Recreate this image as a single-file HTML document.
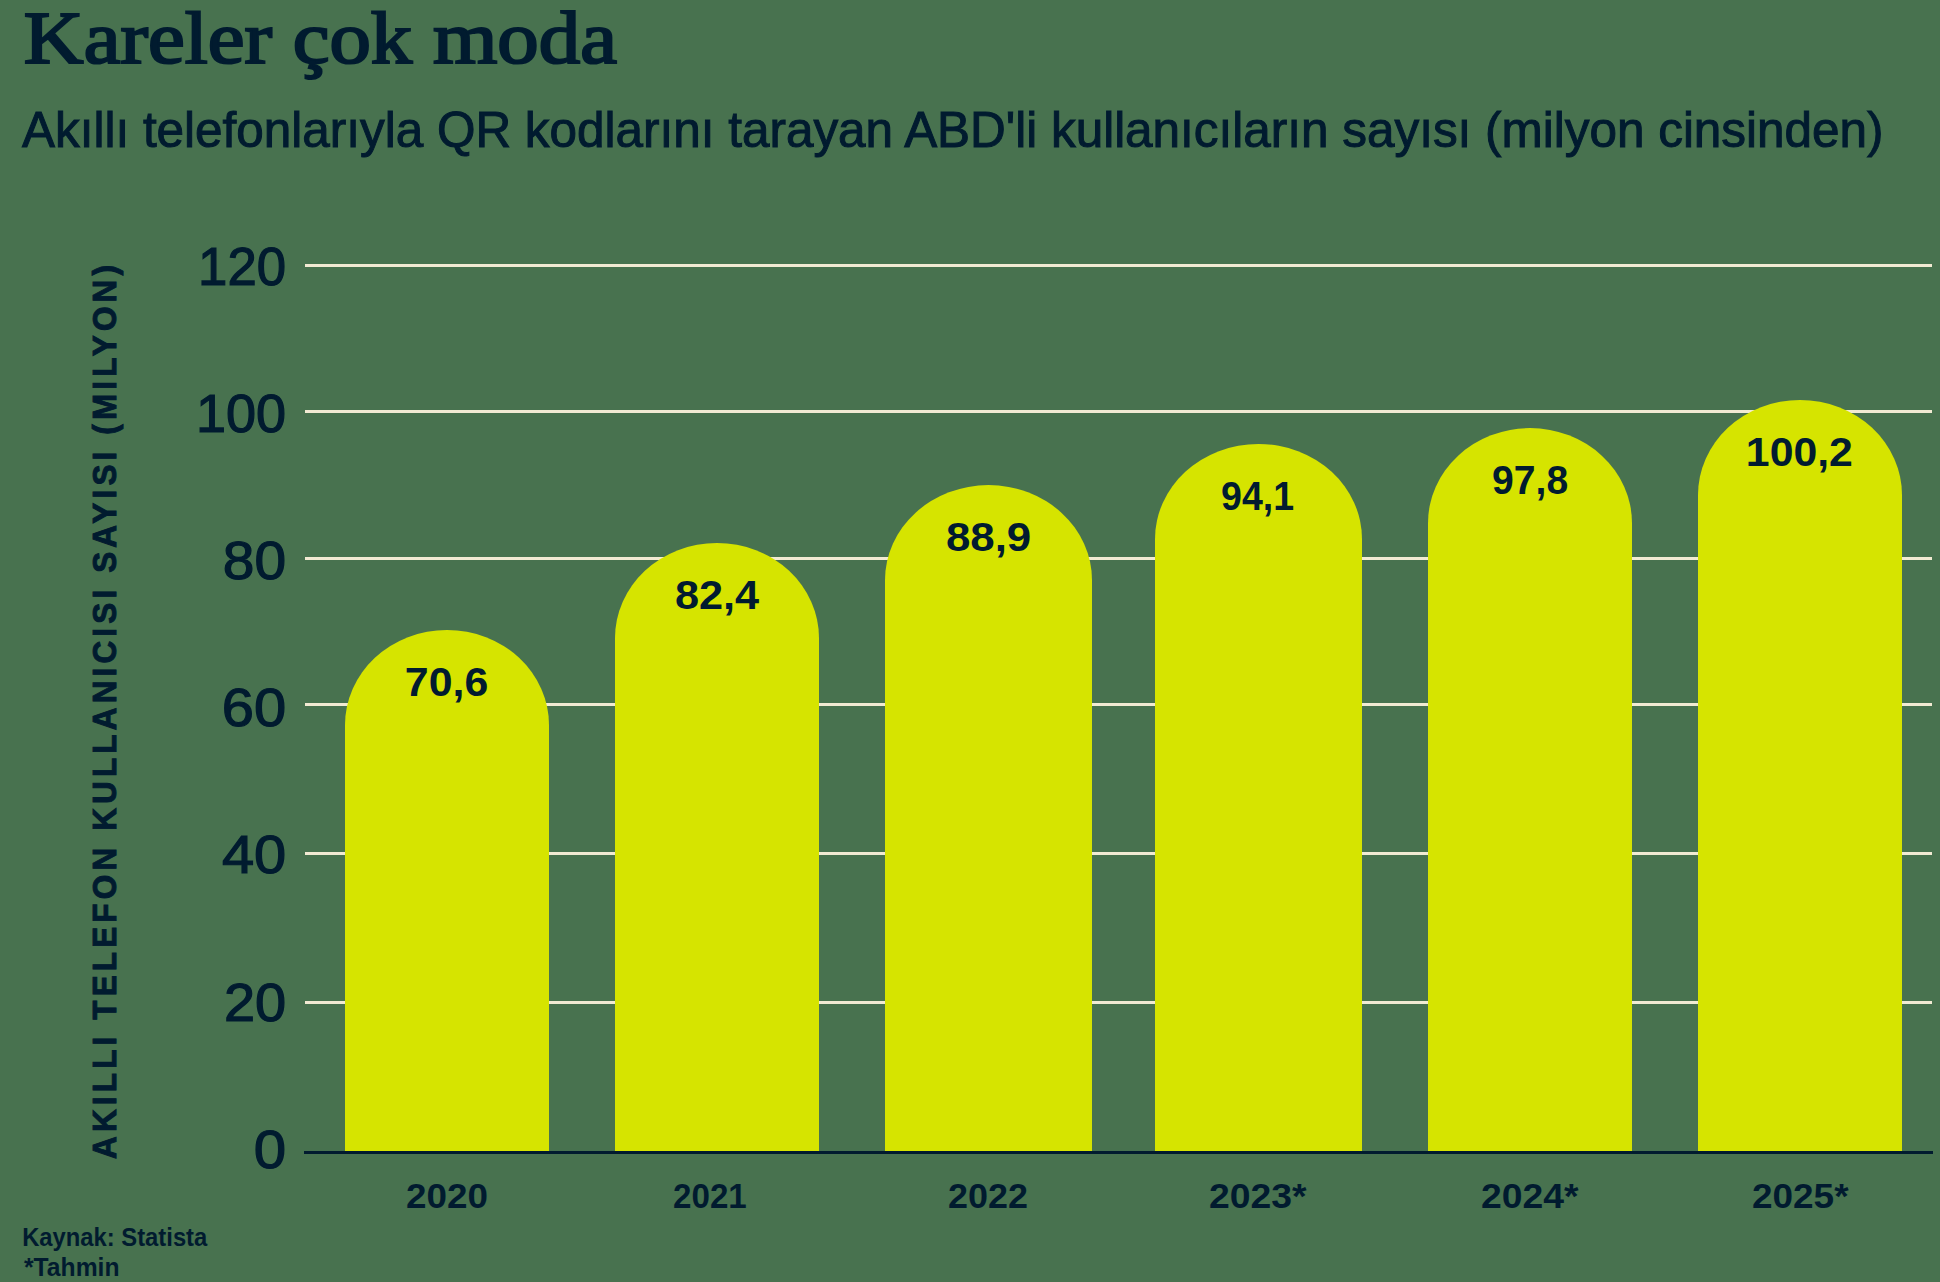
<!DOCTYPE html>
<html><head><meta charset="utf-8"><style>
html,body{margin:0;padding:0;background:#48724F;overflow:hidden;}
svg{display:block;}
text{fill:#011B2F;}
</style></head><body>
<svg width="1940" height="1282" viewBox="0 0 1940 1282">
<rect x="0" y="0" width="1940" height="1282" fill="#48724F"/>
<rect x="305" y="264" width="1627" height="3" fill="#F2EAD3"/>
<rect x="305" y="410" width="1627" height="3" fill="#F2EAD3"/>
<rect x="305" y="557" width="1627" height="3" fill="#F2EAD3"/>
<rect x="305" y="703" width="1627" height="3" fill="#F2EAD3"/>
<rect x="305" y="852" width="1627" height="3" fill="#F2EAD3"/>
<rect x="305" y="1001" width="1627" height="3" fill="#F2EAD3"/>
<path d="M345 1151 L345 725 A102.0 95 0 0 1 549 725 L549 1151 Z" fill="#D6E400"/>
<path d="M615 1151 L615 638 A102.0 95 0 0 1 819 638 L819 1151 Z" fill="#D6E400"/>
<path d="M885 1151 L885 580 A103.5 95 0 0 1 1092 580 L1092 1151 Z" fill="#D6E400"/>
<path d="M1155 1151 L1155 539 A103.5 95 0 0 1 1362 539 L1362 1151 Z" fill="#D6E400"/>
<path d="M1428 1151 L1428 523 A102.0 95 0 0 1 1632 523 L1632 1151 Z" fill="#D6E400"/>
<path d="M1698 1151 L1698 495 A102.0 95 0 0 1 1902 495 L1902 1151 Z" fill="#D6E400"/>
<rect x="304" y="1151" width="1629" height="3" fill="#011B2F"/>
<text x="23.87" y="63" style="font-family:'Liberation Serif',serif;font-size:73px;stroke:#011B2F;stroke-width:2.2px" textLength="593.03" lengthAdjust="spacingAndGlyphs">Kareler çok moda</text>
<text x="22.00" y="147" style="font-family:'Liberation Sans',sans-serif;font-size:50px;stroke:#011B2F;stroke-width:1px" textLength="1861.52" lengthAdjust="spacingAndGlyphs">Akıllı telefonlarıyla QR kodlarını tarayan ABD'li kullanıcıların sayısı (milyon cinsinden)</text>
<text x="198.10" y="285" style="font-family:'Liberation Sans',sans-serif;font-size:54px;stroke:#011B2F;stroke-width:1.2px" textLength="87.96" lengthAdjust="spacingAndGlyphs">120</text>
<text x="196.00" y="432" style="font-family:'Liberation Sans',sans-serif;font-size:54px;stroke:#011B2F;stroke-width:1.2px" textLength="90.11" lengthAdjust="spacingAndGlyphs">100</text>
<text x="222.89" y="579" style="font-family:'Liberation Sans',sans-serif;font-size:54px;stroke:#011B2F;stroke-width:1.2px" textLength="63.30" lengthAdjust="spacingAndGlyphs">80</text>
<text x="221.86" y="726" style="font-family:'Liberation Sans',sans-serif;font-size:54px;stroke:#011B2F;stroke-width:1.2px" textLength="64.37" lengthAdjust="spacingAndGlyphs">60</text>
<text x="221.93" y="873" style="font-family:'Liberation Sans',sans-serif;font-size:54px;stroke:#011B2F;stroke-width:1.2px" textLength="64.29" lengthAdjust="spacingAndGlyphs">40</text>
<text x="223.93" y="1021" style="font-family:'Liberation Sans',sans-serif;font-size:54px;stroke:#011B2F;stroke-width:1.2px" textLength="62.22" lengthAdjust="spacingAndGlyphs">20</text>
<text x="253.85" y="1168" style="font-family:'Liberation Sans',sans-serif;font-size:54px;stroke:#011B2F;stroke-width:1.2px" textLength="32.36" lengthAdjust="spacingAndGlyphs">0</text>
<text x="404.89" y="696" style="font-family:'Liberation Sans',sans-serif;font-weight:bold;font-size:40.7px" textLength="83.37" lengthAdjust="spacingAndGlyphs">70,6</text>
<text x="674.94" y="609" style="font-family:'Liberation Sans',sans-serif;font-weight:bold;font-size:40.7px" textLength="84.28" lengthAdjust="spacingAndGlyphs">82,4</text>
<text x="945.92" y="551" style="font-family:'Liberation Sans',sans-serif;font-weight:bold;font-size:40.7px" textLength="85.37" lengthAdjust="spacingAndGlyphs">88,9</text>
<text x="1221.08" y="510" style="font-family:'Liberation Sans',sans-serif;font-weight:bold;font-size:40.7px" textLength="73.03" lengthAdjust="spacingAndGlyphs">94,1</text>
<text x="1492.04" y="494" style="font-family:'Liberation Sans',sans-serif;font-weight:bold;font-size:40.7px" textLength="76.12" lengthAdjust="spacingAndGlyphs">97,8</text>
<text x="1745.85" y="466" style="font-family:'Liberation Sans',sans-serif;font-weight:bold;font-size:40.7px" textLength="107.08" lengthAdjust="spacingAndGlyphs">100,2</text>
<text x="405.95" y="1208" style="font-family:'Liberation Sans',sans-serif;font-weight:bold;font-size:35px" textLength="81.97" lengthAdjust="spacingAndGlyphs">2020</text>
<text x="673.05" y="1208" style="font-family:'Liberation Sans',sans-serif;font-weight:bold;font-size:35px" textLength="73.78" lengthAdjust="spacingAndGlyphs">2021</text>
<text x="947.97" y="1208" style="font-family:'Liberation Sans',sans-serif;font-weight:bold;font-size:35px" textLength="79.92" lengthAdjust="spacingAndGlyphs">2022</text>
<text x="1208.93" y="1208" style="font-family:'Liberation Sans',sans-serif;font-weight:bold;font-size:35px" textLength="97.58" lengthAdjust="spacingAndGlyphs">2023*</text>
<text x="1480.93" y="1208" style="font-family:'Liberation Sans',sans-serif;font-weight:bold;font-size:35px" textLength="97.58" lengthAdjust="spacingAndGlyphs">2024*</text>
<text x="1751.94" y="1208" style="font-family:'Liberation Sans',sans-serif;font-weight:bold;font-size:35px" textLength="96.57" lengthAdjust="spacingAndGlyphs">2025*</text>
<text x="22.17" y="1246" style="font-family:'Liberation Sans',sans-serif;font-weight:bold;font-size:26px" textLength="185.12" lengthAdjust="spacingAndGlyphs">Kaynak: Statista</text>
<text x="24.00" y="1276" style="font-family:'Liberation Sans',sans-serif;font-weight:bold;font-size:26px" textLength="95.56" lengthAdjust="spacingAndGlyphs">*Tahmin</text>
<text transform="translate(116 1158) rotate(-90) scale(0.94 1)" x="-1.00" y="0" style="font-family:'Liberation Sans',sans-serif;font-weight:bold;font-size:33.5px;stroke:#011B2F;stroke-width:1px" textLength="950.91" lengthAdjust="spacing">AKILLI TELEFON KULLANICISI SAYISI (MILYON)</text>
</svg>
</body></html>
